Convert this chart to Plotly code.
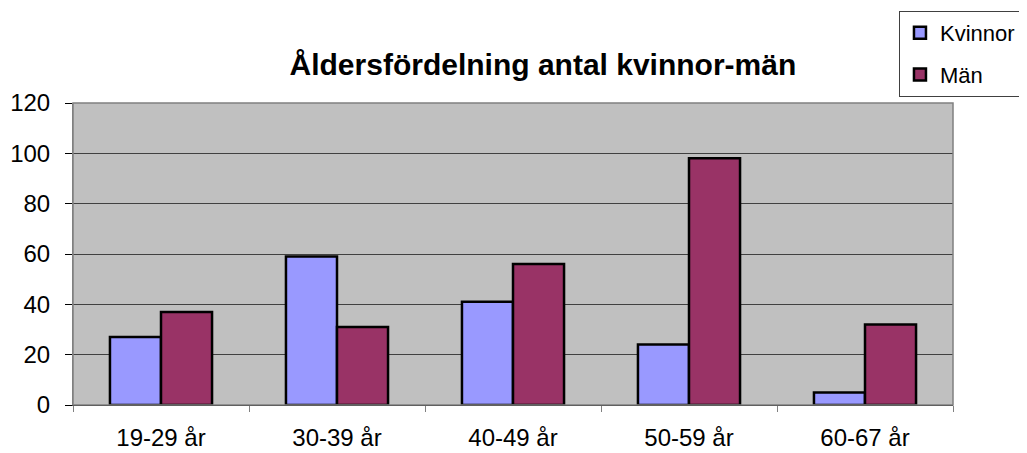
import plotly.graph_objects as go

categories = ["19-29 år", "30-39 år", "40-49 år", "50-59 år", "60-67 år"]
kvinnor = [27, 59, 41, 24, 5]
man = [37, 31, 56, 98, 32]
y_ticks = [0, 20, 40, 60, 80, 100, 120]

fig = go.Figure()
fig.add_trace(go.Bar(x=categories, y=kvinnor, name="Kvinnor", legendgroup="k",
                     marker=dict(color="#9999FF", line=dict(color="black", width=2.5))))
fig.add_trace(go.Bar(x=categories, y=man, name="Män", legendgroup="m",
                     marker=dict(color="#993366", line=dict(color="black", width=2.5))))

# page body has an 8px margin, so the figure is 8px smaller in each direction
fig.update_layout(
    width=1019, height=445,
    margin=dict(l=65, r=74, t=95, b=48, autoexpand=False),
    paper_bgcolor="white",
    plot_bgcolor="#C0C0C0",
    barmode="group",
    bargap=0.42,
    bargroupgap=0,
    font=dict(family="Liberation Sans, Arial, sans-serif", color="black"),
    title=dict(text="<b>Åldersfördelning antal kvinnor-män</b>",
               font=dict(size=30, color="black"),
               x=0.534, xanchor="center", xref="paper", y=0.872, yanchor="middle"),
    showlegend=True,
    legend=dict(x=0.9386, y=1.3046, xanchor="left", yanchor="top",
                bordercolor="#404040", borderwidth=1, bgcolor="white",
                font=dict(size=22, color="black"), tracegroupgap=10,
                traceorder="grouped", itemwidth=30),
    xaxis=dict(type="category", tickson="boundaries", ticks="outside",
               ticklen=6, tickcolor="#808080", showline=True, linecolor="black",
               linewidth=1, tickfont=dict(size=24), mirror=False,
               showgrid=False, ticklabelstandoff=11),
    yaxis=dict(range=[0, 120], tickvals=y_ticks, ticks="outside", ticklen=7,
               tickcolor="black", showline=True, linecolor="#808080", linewidth=1,
               gridcolor="#404040", gridwidth=1, tickfont=dict(size=24),
               zeroline=False, ticklabelstandoff=10),
)
# plot area border (top/right) in gray
fig.add_shape(type="rect", xref="paper", yref="paper", x0=0, y0=0, x1=1, y1=1,
              line=dict(color="#808080", width=1.5), layer="above")
fig.write_html("out.html")
